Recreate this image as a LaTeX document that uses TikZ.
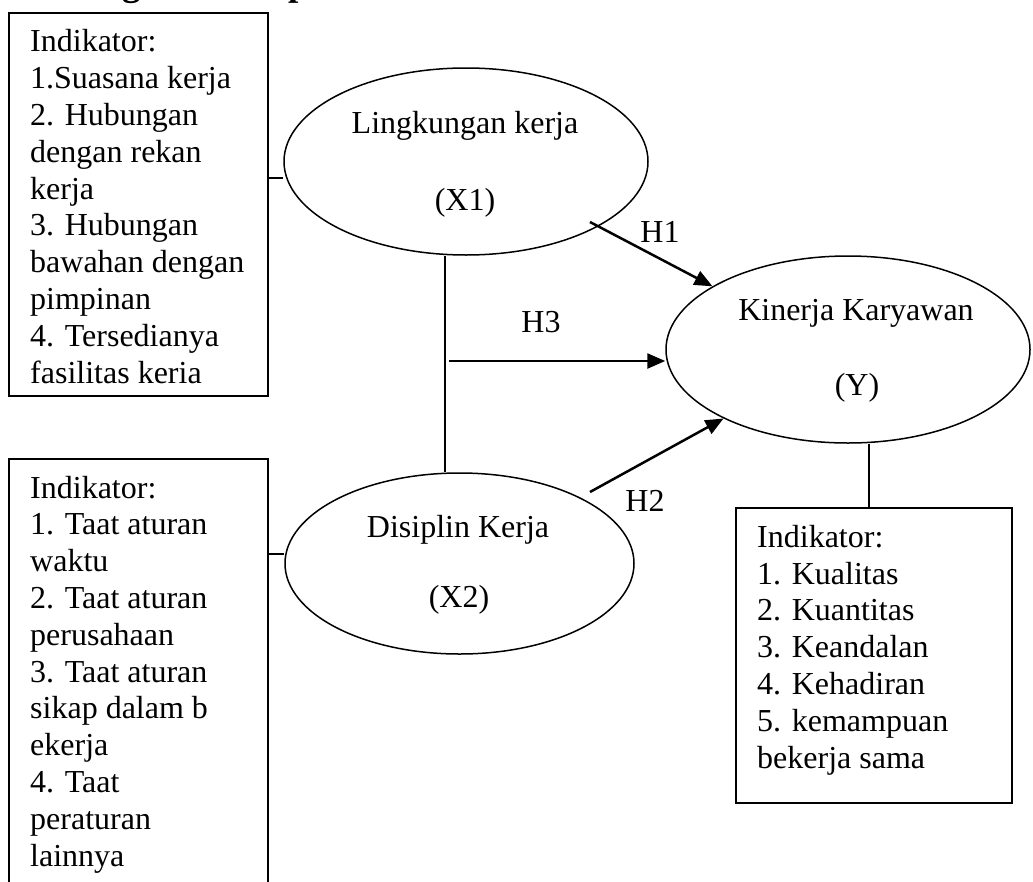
\documentclass[tikz,border=0pt]{standalone}
\usepackage{fontspec}
\setmainfont{Liberation Serif}
\usetikzlibrary{shapes.geometric,arrows.meta}
\begin{document}
\begin{tikzpicture}[x=1pt,y=-1pt,
  every node/.style={font=\fontsize{32}{36.8}\selectfont},
  box/.style={draw, line width=1.9pt, anchor=north west, inner sep=0pt},
  ell/.style={draw, ellipse, line width=1.5pt, inner sep=0pt},
  txt/.style={align=left, anchor=base west, inner sep=0pt},
  lbl/.style={anchor=base, inner sep=0pt},
  link/.style={line width=1.6pt},
  arr/.style={line width=2.5pt, -{Triangle[length=18pt,width=15pt]}}
]
\useasboundingbox (0,0) rectangle (1033,881);
\clip (0,0) rectangle (1033,881);

% cut-off heading
\node[font=\bfseries\fontsize{37}{40}\selectfont, anchor=base west, inner sep=0pt] (head) at (22,-5) {Kerangka Konseptual};

% indicator boxes
\node[box, minimum width=259pt, minimum height=383pt] (b1) at (8,12) {};
\node[box, minimum width=259pt, minimum height=440pt] (b2) at (8,458) {};
\node[box, minimum width=276pt, minimum height=295pt] (b3) at (735,507) {};

% multi-line texts: anchored at the baseline of their last line
\node[txt] (t1) at (30,383) {Indikator:\\1.Suasana kerja\\2. Hubungan\\dengan rekan\\kerja\\3. Hubungan\\bawahan dengan\\pimpinan\\4. Tersedianya\\fasilitas keria};
\node[txt] (t2) at (30,866) {Indikator:\\1. Taat aturan\\waktu\\2. Taat aturan\\perusahaan\\3. Taat aturan\\sikap dalam b\\ekerja\\4. Taat\\peraturan\\lainnya};
\node[txt] (t3) at (757,768) {Indikator:\\1. Kualitas\\2. Kuantitas\\3. Keandalan\\4. Kehadiran\\5. kemampuan\\bekerja sama};

% variables
\node[ell, minimum width=364pt, minimum height=187pt] (X1) at (466,161.5) {};
\node[ell, minimum width=349pt, minimum height=181pt] (X2) at (459.5,563.5) {};
\node[ell, minimum width=364pt, minimum height=187pt] (Y) at (848,349.5) {};

\node[lbl] (X1a) at (465,133) {Lingkungan kerja};
\node[lbl] (X1b) at (465,210) {(X1)};
\node[lbl] (X2a) at (458,537) {Disiplin Kerja};
\node[lbl] (X2b) at (459,607) {(X2)};
\node[lbl] (Ya) at (856,320) {Kinerja Karyawan};
\node[lbl] (Yb) at (857,395) {(Y)};

% connector helpers
\coordinate (c1) at (0,178);
\coordinate (c2) at (0,554);
\coordinate (c3) at (869,0);
\coordinate (m) at (445,361);
\coordinate (h1s) at (590,222);
\coordinate (h2s) at (590,492);

\draw[link] (b1.east |- c1) -- (X1.west |- c1);
\draw[link] (b2.east |- c2) -- (X2.west |- c2);
\draw[link] (X1.south -| m) -- (X2.north -| m);
\draw[link] (Y.south -| c3) -- (b3.north -| c3);

\draw[arr] (h1s) -- (Y.155);
\draw[arr] ([xshift=4pt]m) -- (Y.west |- m);
\draw[arr] (h2s) -- (Y.209);

\node[lbl] (H1) at (660,242) {H1};
\node[lbl] (H3) at (541,332) {H3};
\node[lbl] (H2) at (645,511) {H2};
\end{tikzpicture}
\end{document}
